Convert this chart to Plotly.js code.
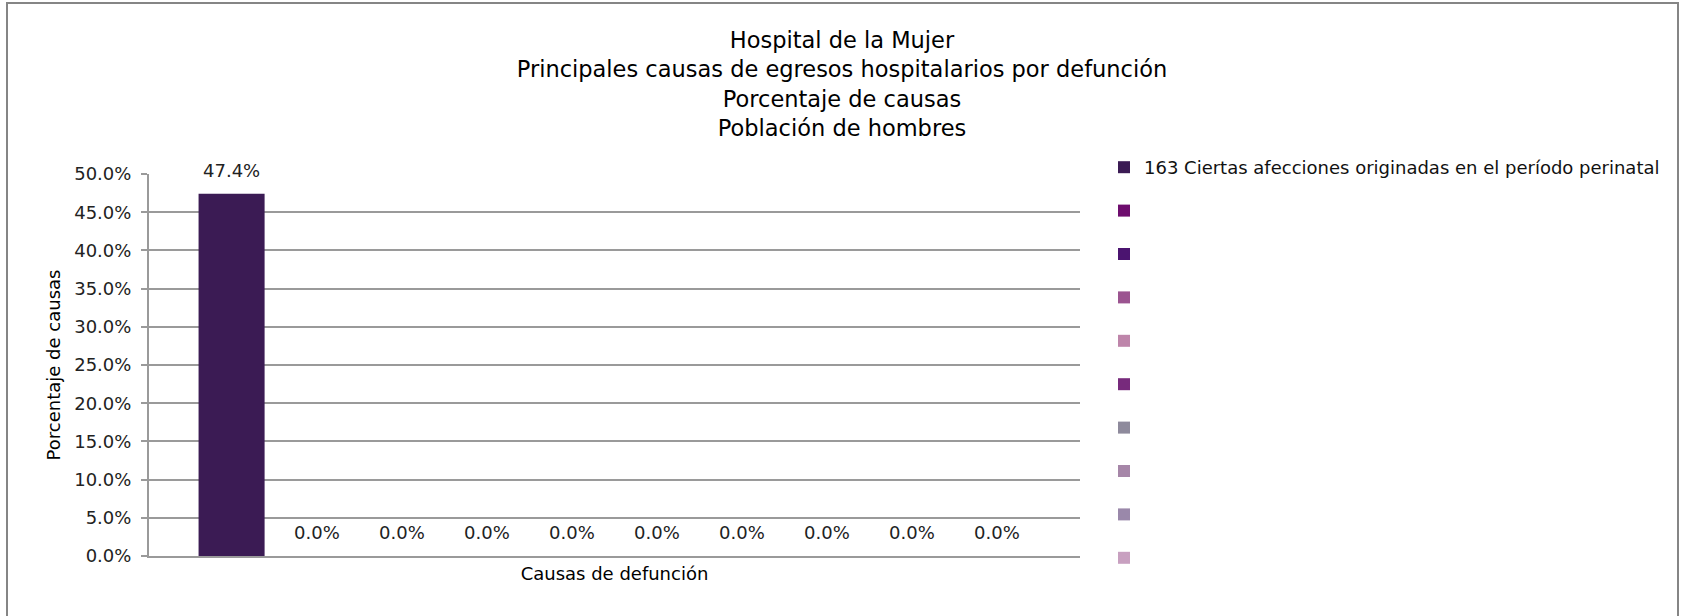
<!DOCTYPE html>
<html>
<head>
<meta charset="utf-8">
<script src="https://cdn.plot.ly/plotly-3.0.1.min.js"></script>
<style>
  html, body { margin: 0; padding: 0; background: #fff; overflow: hidden; }
  #wrap { position: relative; width: 1681px; height: 616px; }
  #chart { position: absolute; left: 0; top: 0; width: 1681px; height: 616px; }
  #frame { position: absolute; left: 6px; top: 2px; width: 1673px; height: 700px;
           box-sizing: border-box; border: 2px solid #858585; pointer-events: none; }
</style>
</head>
<body>
<div id="wrap">
  <div id="chart"></div>
  <div id="frame"></div>
</div>
<script>
// ---- data ----
const titleLines = [
  "Hospital de la Mujer",
  "Principales causas de egresos hospitalarios por defunción",
  "Porcentaje de causas",
  "Población de hombres"
];
const seriesNames = [
  "163 Ciertas afecciones originadas en el período perinatal",
  "", "", "", "", "", "", "", "", ""
];
const seriesValues = [0.474, 0, 0, 0, 0, 0, 0, 0, 0, 0];
const seriesColors = [
  "#3b1b54", "#6e0d6e", "#4b1470", "#9b5490", "#be85aa",
  "#772a7c", "#8e8a9c", "#a686a8", "#9a88aa", "#c8a0c0"
];
const yAxisTitle = "Porcentaje de causas";
const xAxisTitle = "Causas de defunción";

// ---- chart ----
const FONT = "DejaVu Sans, Verdana, sans-serif";
const GRID = "#9a9a9a";

const traces = seriesValues.map((v, i) => ({
  type: "bar",
  x: [i],
  y: [v],
  name: seriesNames[i],
  legendgroup: "g" + i,
  width: 0.776,
  marker: { color: seriesColors[i], line: { width: 0 } },
  hoverinfo: "y+name"
}));

const annotations = seriesValues.map((v, i) => ({
  x: i,
  y: v,
  xref: "x",
  yref: "y",
  text: (v * 100).toFixed(1) + "%",
  showarrow: false,
  yanchor: "bottom",
  yshift: 11,
  font: { family: FONT, size: 18, color: "#222" }
}));

const layout = {
  width: 1681,
  height: 616,
  paper_bgcolor: "rgba(0,0,0,0)",
  plot_bgcolor: "rgba(0,0,0,0)",
  margin: { l: 149, r: 601, t: 174, b: 60, pad: 0 },
  barmode: "overlay",
  showlegend: true,
  title: {
    text: titleLines.join("<br>"),
    font: { family: FONT, size: 22.5, color: "#000" },
    xref: "container",
    yref: "container",
    x: 842 / 1681,
    xanchor: "center",
    y: 1 - 48 / 616,
    yanchor: "top"
  },
  xaxis: {
    range: [-0.9706, 9.9706],
    showticklabels: false,
    ticks: "",
    showgrid: false,
    zeroline: false,
    showline: true,
    linecolor: GRID,
    linewidth: 2,
    fixedrange: true,
    title: {
      text: xAxisTitle,
      font: { family: FONT, size: 18, color: "#000" },
      standoff: 10
    }
  },
  yaxis: {
    range: [0, 0.5],
    tick0: 0,
    dtick: 0.05,
    tickformat: ".1%",
    ticks: "outside",
    ticklen: 6,
    tickwidth: 2,
    tickcolor: GRID,
    ticklabelstandoff: 6,
    showline: true,
    linecolor: GRID,
    linewidth: 2,
    showgrid: true,
    gridcolor: GRID,
    gridwidth: 2,
    zeroline: false,
    fixedrange: true,
    tickfont: { family: FONT, size: 18, color: "#222" },
    title: {
      text: yAxisTitle,
      font: { family: FONT, size: 18, color: "#000" },
      standoff: 9
    }
  },
  legend: {
    xref: "container",
    yref: "container",
    x: 1104 / 1681,
    xanchor: "left",
    y: 1 - 149 / 616,
    yanchor: "top",
    maxheight: 480,
    font: { family: FONT, size: 18, color: "#111" },
    tracegroupgap: 17,
    itemwidth: 30,
    bgcolor: "rgba(0,0,0,0)",
    borderwidth: 0
  },
  annotations: annotations
};

Plotly.newPlot("chart", traces, layout, { displayModeBar: false });
</script>
</body>
</html>
